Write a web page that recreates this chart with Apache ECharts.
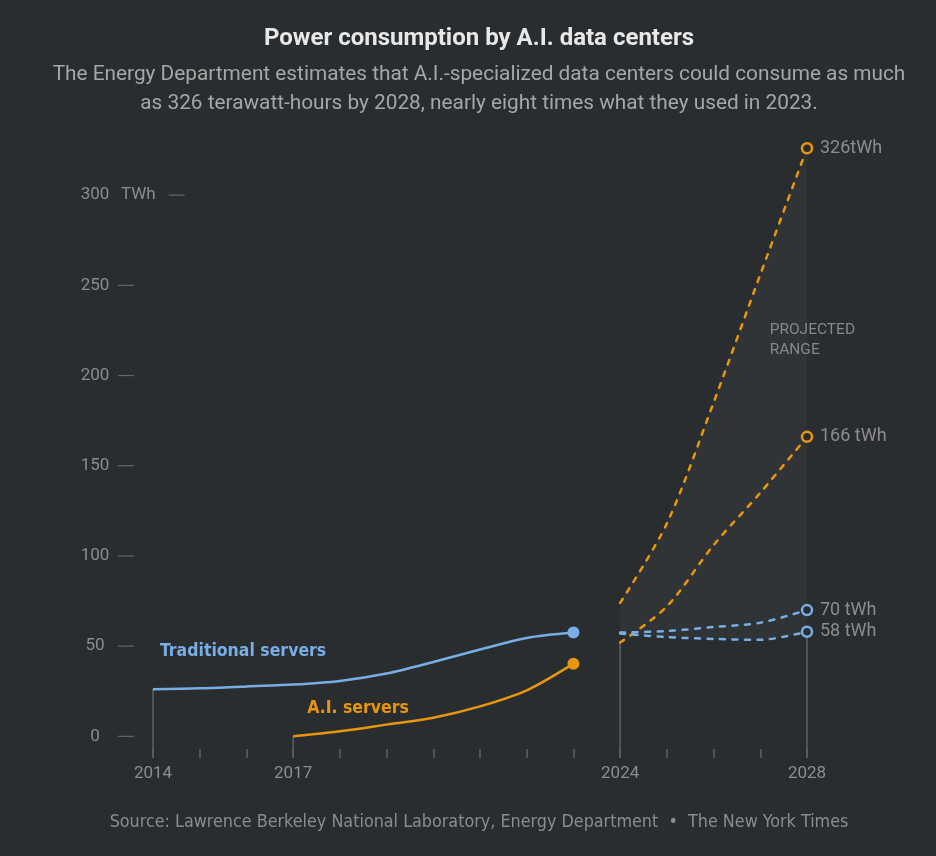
<!DOCTYPE html>
<html>
<head>
<meta charset="utf-8">
<script src="https://cdn.jsdelivr.net/npm/echarts@6/dist/echarts.min.js"></script>
<style>
  html, body { margin: 0; padding: 0; background: #2a2d30; }
  #chart { width: 936px; height: 856px; }
</style>
</head>
<body>
<div id="chart"></div>
<script>
// data
var histYears = [2014, 2015, 2016, 2017, 2018, 2019, 2020, 2021, 2022, 2023];
var traditional = [26.1, 26.6, 27.7, 28.7, 30.7, 34.8, 41.2, 48.1, 54.5, 57.5];
var aiYears = [2017, 2018, 2019, 2020, 2021, 2022, 2023];
var aiServers = [0, 2.8, 6.5, 10.3, 16.6, 25.5, 40.3];

var projYears = [2024, 2025, 2026, 2027, 2028];
var aiHigh = [74, 118, 185, 256, 326];
var aiLow = [52, 72, 106, 135, 166];
var tradHigh = [57.5, 58.4, 60.6, 63, 70];
var tradLow = [57, 55, 54, 53.5, 58];
var endLabels = ['326tWh', '166 tWh', '70 tWh', '58 tWh'];

var dropYears = [2014, 2017, 2024, 2028];
var dropTops = [26.1, 0, 52, 58];

var yTicks = [0, 50, 100, 150, 200, 250, 300];
var xLabels = [2014, 2017, 2024, 2028];

var BLUE = '#78aee4';
var ORANGE = '#e8970c';
var BG = '#2a2d30';
var GREY = '#8c8c8c';
var LINE_GREY = '#5e6062';
var YMIN = -12;
var NARROW = "'Liberation Sans Narrow', 'DejaVu Sans Condensed', Roboto, sans-serif";

function pairs(xs, ys) {
  return xs.map(function (x, i) { return [x, ys[i]]; });
}

var chart = echarts.init(document.getElementById('chart'));

var series = [];

// projected range: fill under the highest projection, then cover below the lowest one
series.push({
  type: 'line',
  data: pairs(projYears, aiHigh),
  smooth: 0.3,
  symbol: 'none',
  silent: true,
  z: 0,
  lineStyle: { opacity: 0 },
  areaStyle: { color: '#313437', opacity: 1, origin: 'start' },
  markPoint: {
    symbol: 'circle',
    symbolSize: 0,
    data: [{ coord: [2027.2, 219.6] }],
    label: {
      show: true,
      position: 'inside',
      align: 'left',
      formatter: 'PROJECTED\nRANGE',
      color: '#85878a',
      fontSize: 15.5,
      lineHeight: 20,
      fontFamily: 'Roboto, sans-serif'
    }
  }
});
series.push({
  type: 'line',
  data: pairs(projYears, tradLow),
  smooth: 0.3,
  symbol: 'none',
  silent: true,
  z: 1,
  lineStyle: { opacity: 0 },
  areaStyle: { color: BG, opacity: 1, origin: 'start' }
});

// thin grey drop lines down to the axis
dropYears.forEach(function (yr, i) {
  series.push({
    type: 'line',
    data: [[yr, dropTops[i]], [yr, YMIN]],
    symbol: 'none',
    silent: true,
    z: 2,
    lineStyle: { color: LINE_GREY, width: 1.5 }
  });
});

// history lines
series.push({
  name: 'Traditional servers',
  type: 'line',
  data: pairs(histYears, traditional),
  smooth: 0.3,
  z: 3,
  symbol: function (v, p) { return p.dataIndex === histYears.length - 1 ? 'circle' : 'none'; },
  symbolSize: 12,
  itemStyle: { color: BLUE },
  lineStyle: { color: BLUE, width: 2.5 },
  markPoint: {
    symbol: 'circle',
    symbolSize: 0,
    data: [{ coord: [2014.15, 47] }],
    label: {
      show: true, position: 'inside', align: 'left', formatter: 'Traditional servers',
      color: BLUE, fontSize: 17.5, fontWeight: 'bold', fontFamily: NARROW
    }
  }
});
series.push({
  name: 'A.I. servers',
  type: 'line',
  data: pairs(aiYears, aiServers),
  smooth: 0.3,
  z: 3,
  symbol: function (v, p) { return p.dataIndex === aiYears.length - 1 ? 'circle' : 'none'; },
  symbolSize: 12,
  itemStyle: { color: ORANGE },
  lineStyle: { color: ORANGE, width: 2.5 },
  markPoint: {
    symbol: 'circle',
    symbolSize: 0,
    data: [{ coord: [2017.3, 15.5] }],
    label: {
      show: true, position: 'inside', align: 'left', formatter: 'A.I. servers',
      color: ORANGE, fontSize: 17.5, fontWeight: 'bold', fontFamily: NARROW
    }
  }
});

// dashed projections
[[aiHigh, ORANGE], [aiLow, ORANGE], [tradHigh, BLUE], [tradLow, BLUE]].forEach(function (p, i) {
  series.push({
    type: 'line',
    data: pairs(projYears, p[0]),
    smooth: 0.3,
    z: 4,
    symbol: function (v, prm) { return prm.dataIndex === projYears.length - 1 ? 'circle' : 'none'; },
    symbolSize: 10,
    itemStyle: { color: BG, borderColor: p[1], borderWidth: 2.5 },
    lineStyle: { color: p[1], width: 2.5, type: [5, 7.5], cap: 'round' },
    endLabel: {
      show: true,
      formatter: endLabels[i],
      color: GREY,
      fontSize: 18,
      distance: 13,
      fontFamily: 'Roboto, sans-serif'
    }
  });
});

option = {
  backgroundColor: BG,
  animation: false,
  textStyle: { fontFamily: 'Roboto, sans-serif' },
  title: [{
    text: 'Power consumption by A.I. data centers',
    left: 479,
    textAlign: 'center',
    top: 27,
    padding: 0,
    textStyle: { color: '#e8e8e8', fontSize: 24, fontWeight: 'bold', fontFamily: 'Roboto, sans-serif' }
  }, {
    text: 'The Energy Department estimates that A.I.-specialized data centers could consume as much\nas 326 terawatt-hours by 2028, nearly eight times what they used in 2023.',
    left: 479,
    textAlign: 'center',
    top: 60,
    padding: 0,
    textStyle: { color: '#a6a6a6', fontSize: 20.8, fontWeight: 'normal', lineHeight: 29, fontFamily: 'Roboto, sans-serif' }
  }, {
    text: 'Source: Lawrence Berkeley National Laboratory, Energy Department  \u2022  The New York Times',
    left: 479,
    textAlign: 'center',
    top: 813,
    padding: 0,
    textStyle: { color: GREY, fontSize: 17.8, fontWeight: 'normal', fontFamily: NARROW }
  }],
  grid: { left: 153, right: 129, top: 141, bottom: 98 },
  xAxis: {
    type: 'value',
    min: 2014,
    max: 2028,
    interval: 1,
    z: 5,
    axisLine: { show: false, onZero: false },
    axisTick: { show: true, inside: true, length: 9, lineStyle: { color: LINE_GREY, width: 1.5 } },
    splitLine: { show: false },
    axisLabel: {
      customValues: xLabels,
      color: GREY,
      fontSize: 17,
      margin: 7,
      formatter: function (v) { return String(v); }
    }
  },
  yAxis: {
    type: 'value',
    min: YMIN,
    max: 330,
    axisLine: { show: false },
    axisTick: { show: false },
    splitLine: { show: false },
    axisLabel: {
      customValues: yTicks,
      align: 'left',
      margin: 74,
      // right-aligned number, unit on the top label, then a short dash
      formatter: function (v) {
        return v === 300 ? '{v|300}{u|TWh}{g2|}{d|}' : '{v|' + v + '}{g|}{d|}';
      },
      rich: {
        v: { color: GREY, fontSize: 17, fontFamily: 'Roboto, sans-serif', width: 32, align: 'right' },
        u: { color: GREY, fontSize: 17, fontFamily: 'Roboto, sans-serif', padding: [0, 0, 0, 10] },
        g: { width: 7 },
        g2: { width: 13 },
        d: { backgroundColor: '#65676a', width: 16, height: 1.2, verticalAlign: 'middle' }
      }
    }
  },
  series: series
};

chart.setOption(option);
</script>
</body>
</html>
